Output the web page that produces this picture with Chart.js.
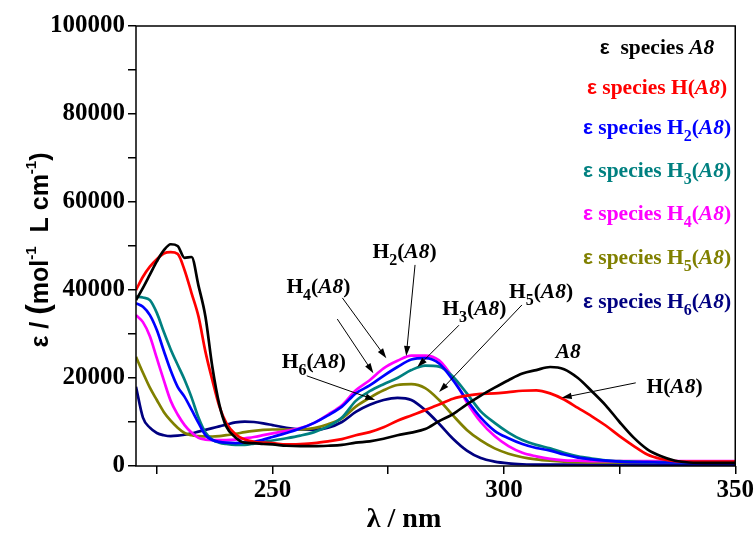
<!DOCTYPE html>
<html>
<head>
<meta charset="utf-8">
<script src="https://cdn.jsdelivr.net/npm/chart.js@4.4.1/dist/chart.umd.min.js"></script>
<style>
  html, body { margin: 0; padding: 0; background: #fff; }
  #wrap { width: 756px; height: 533px; }
</style>
</head>
<body>
<div id="wrap"><canvas id="c" width="756" height="533"></canvas></div>
<script>
// Wavelength grid (nm) shared by all species spectra
const wavelengths = [220.5, 222, 223.5, 225, 226.5, 228, 229.5, 231, 232.5, 234, 235.5, 237, 238.5, 240, 242, 244, 246, 248, 250,
  253, 256, 259, 262, 265, 268, 271, 274, 277, 280, 283, 286, 289, 292, 295, 298, 301, 304, 307, 310, 313, 316, 319, 322, 325,
  328, 331, 334, 337, 340, 345, 350];

// Molar absorptivity (mol-1 L cm-1) of each protonated species
const epsA8 = [37700, 40500, 43500, 46500, 49000, 50400, 50000, 47300, 47500, 41000, 34000, 22500, 14000, 9000, 6500, 5300, 5200, 5000, 4900,
  4600, 4500, 4500, 4600, 4800, 5300, 5600, 6200, 7000, 7600, 8400, 10200, 11800, 14000, 16000, 17800, 19500, 21000, 21800, 22500, 22000, 20000, 17000, 13800, 10000,
  6500, 3800, 2200, 1200, 800, 700, 700];
const epsH1A8 = [40000, 43000, 45300, 47000, 48300, 48600, 48200, 44500, 39300, 34000, 26000, 19500, 13600, 9800, 7200, 6000, 5500, 5300, 5200,
  4900, 5000, 5200, 5600, 6100, 7000, 7700, 8800, 10300, 11500, 12700, 14000, 15300, 16000, 16400, 16500, 16800, 17100, 17200, 16500, 15100, 13200, 11300, 9200, 6800,
  4600, 2600, 1600, 1100, 1000, 1000, 1000];
const epsH2A8 = [37000, 36200, 34300, 30900, 26200, 21700, 18000, 15700, 12800, 9800, 7000, 5900, 5500, 5300, 5200, 5300, 5500, 6000, 6600,
  7500, 8500, 9800, 11500, 13500, 16500, 18300, 20500, 22500, 24200, 24500, 23300, 19500, 15000, 11000, 8000, 6300, 5000, 4100, 3500, 2600, 1900, 1500, 1200, 1000,
  900, 900, 800, 800, 800, 800, 800];
const epsH3A8 = [38500, 38300, 37700, 34800, 30500, 26500, 23000, 19600, 15600, 11000, 7600, 6000, 5300, 5000, 4800, 4800, 5100, 5500, 5800,
  6300, 6900, 7700, 9000, 11000, 14800, 17000, 18600, 20000, 21800, 22800, 22600, 20300, 16500, 12400, 9800, 7600, 5900, 4800, 4000, 3000, 2200, 1700, 1300, 1100,
  1000, 900, 900, 900, 900, 900, 900];
const epsH4A8 = [34300, 32700, 29500, 24500, 19500, 14800, 11700, 9300, 7600, 6400, 6000, 5900, 5900, 5900, 6000, 6300, 6600, 7000, 7400,
  8000, 8600, 9800, 11700, 13800, 17200, 19500, 22200, 23900, 25100, 25100, 24000, 20000, 14500, 10000, 6800, 4500, 3000, 2200, 1600, 1300, 1200, 1100, 1100, 1100,
  1100, 1100, 1100, 1100, 1100, 1100, 1100];
const epsH5A8 = [24800, 21200, 17800, 15000, 12300, 10300, 8700, 7500, 7000, 6800, 6700, 6700, 6800, 7000, 7300, 7700, 8000, 8200, 8300,
  8300, 8300, 8600, 9500, 10800, 13500, 15500, 17200, 18400, 18600, 17700, 15000, 11500, 8200, 5800, 4000, 2800, 2000, 1500, 1200, 1000, 900, 800, 800, 800,
  800, 800, 800, 800, 800, 800, 800];
const epsH6A8 = [18000, 11000, 8700, 7500, 7000, 6800, 6900, 7100, 7400, 7800, 8200, 8600, 9000, 9400, 9900, 10100, 10000, 9700, 9300,
  8700, 8300, 8200, 8700, 10000, 12300, 13900, 15000, 15500, 15000, 12700, 9600, 6200, 3500, 1800, 1000, 600, 400, 300, 300, 300, 300, 300, 300, 300,
  300, 300, 300, 300, 300, 300, 300];

// Number of bound protons per species (0 = A8, 1 = H(A8), n = Hn(A8))
const protonCounts = [0, 1, 2, 3, 4, 5, 6];
const seriesValues = [epsA8, epsH1A8, epsH2A8, epsH3A8, epsH4A8, epsH5A8, epsH6A8];
const seriesColors = ['#000000', '#ff0000', '#0000ff', '#008080', '#ff00ff', '#808000', '#000080'];

// Axis ticks
const xTickValues = [225, 250, 275, 300, 325, 350];
const xLabelValues = [250, 300, 350];
const yTickStep = 10000;
const yLabelStep = 20000;

// Callout labels: species protons, label anchor (nm, eps), arrows as [fromNm, fromEps, toNm, toEps]
const callouts = [
  { n: 2, at: [271.6, 47300], arrows: [[280.8, 45700, 278.9, 25000]] },
  { n: 4, at: [253.0, 39300], arrows: [[265.1, 38200, 274.6, 24500], [264.0, 33400, 271.8, 21100]] },
  { n: 6, at: [252.0, 22300], arrows: [[257.4, 20500, 272.2, 15000]] },
  { n: 3, at: [286.7, 34300], arrows: [[290.3, 32000, 281.3, 22500]] },
  { n: 5, at: [301.1, 38200], arrows: [[303.9, 36600, 286.0, 16800]] },
  { n: 0, at: [311.2, 24500], arrows: [] },
  { n: 1, at: [330.8, 16600], arrows: [[328.5, 18900, 312.5, 15500]] }
];

const SERIF = '"Liberation Serif", "Times New Roman", serif';
const SANS = '"Liberation Sans", Arial, sans-serif';

function drawRich(ctx, segs, x, y, align) {
  let w = 0;
  segs.forEach(s => { ctx.font = s.font; s.w = ctx.measureText(s.t).width; w += s.w; });
  let cx = align === 'center' ? x - w / 2 : (align === 'right' ? x - w : x);
  ctx.textAlign = 'left';
  ctx.textBaseline = 'alphabetic';
  segs.forEach(s => { ctx.font = s.font; ctx.fillText(s.t, cx, y + (s.dy || 0)); cx += s.w; });
  return w;
}

function speciesSegs(n, size) {
  const B = `bold ${size}px ${SERIF}`;
  const BI = `italic bold ${size}px ${SERIF}`;
  const S = `bold ${Math.round(size * 0.74)}px ${SERIF}`;
  if (n === 0) return [{ t: 'A8', font: BI }];
  const segs = [{ t: 'H', font: B }];
  if (n > 1) segs.push({ t: String(n), font: S, dy: Math.round(size * 0.32) });
  segs.push({ t: '(', font: B }, { t: 'A8', font: BI }, { t: ')', font: B });
  return segs;
}

function arrow(ctx, x1, y1, x2, y2) {
  const ang = Math.atan2(y2 - y1, x2 - x1);
  const L = 10, H = 3.2;
  ctx.beginPath();
  ctx.moveTo(x1, y1);
  ctx.lineTo(x2 - Math.cos(ang) * L * 0.8, y2 - Math.sin(ang) * L * 0.8);
  ctx.stroke();
  ctx.beginPath();
  ctx.moveTo(x2, y2);
  ctx.lineTo(x2 - Math.cos(ang) * L - Math.sin(ang) * H, y2 - Math.sin(ang) * L + Math.cos(ang) * H);
  ctx.lineTo(x2 - Math.cos(ang) * L + Math.sin(ang) * H, y2 - Math.sin(ang) * L - Math.cos(ang) * H);
  ctx.closePath();
  ctx.fill();
}

// Frame, legend, callouts and axis titles
const decorations = {
  id: 'decorations',
  afterDatasetsDraw(chart) {
    const { ctx, chartArea: a, scales: { x, y } } = chart;
    ctx.save();
    ctx.strokeStyle = '#000';
    ctx.lineWidth = 1.5;
    ctx.strokeRect(a.left, a.top, a.right - a.left, a.bottom - a.top);

    // Legend
    const legendBaselines = [54, 94, 134, 177, 220, 264, 308];
    const legendCenter = 657;
    protonCounts.forEach((n, i) => {
      ctx.fillStyle = seriesColors[i];
      const segs = [{ t: 'ε', font: `bold 21px ${SANS}` },
        { t: i === 0 ? '  species ' : ' species ', font: `bold 21.5px ${SERIF}` }]
        .concat(speciesSegs(n, 21.5));
      drawRich(ctx, segs, legendCenter, legendBaselines[i], 'center');
    });

    // Callouts
    ctx.fillStyle = '#000';
    ctx.strokeStyle = '#000';
    ctx.lineWidth = 1;
    callouts.forEach(c => {
      drawRich(ctx, speciesSegs(c.n, 21.5), x.getPixelForValue(c.at[0]), y.getPixelForValue(c.at[1]), 'left');
      c.arrows.forEach(ar => arrow(ctx,
        x.getPixelForValue(ar[0]), y.getPixelForValue(ar[1]),
        x.getPixelForValue(ar[2]), y.getPixelForValue(ar[3])));
    });

    // X title
    ctx.fillStyle = '#000';
    ctx.font = `bold 28px ${SERIF}`;
    ctx.textAlign = 'center';
    ctx.textBaseline = 'alphabetic';
    ctx.fillText('λ / nm', 404, 527);

    // Y title (rotated)
    ctx.translate(48, 250);
    ctx.rotate(-Math.PI / 2);
    const F = `bold 25px ${SANS}`, P = `bold 32px ${SANS}`, SUP = `bold 15px ${SANS}`;
    drawRich(ctx, [
      { t: 'ε / ', font: F }, { t: '(', font: P }, { t: 'mol', font: F }, { t: '-1', font: SUP, dy: -12 },
      { t: '  L cm', font: F }, { t: '-1', font: SUP, dy: -12 }, { t: ')', font: F }
    ], 0, 0, 'center');
    ctx.restore();
  }
};

const datasets = seriesValues.map((vals, i) => ({
  label: protonCounts[i] === 0 ? 'A8' : 'H' + (protonCounts[i] > 1 ? protonCounts[i] : '') + '(A8)',
  data: wavelengths.map((w, k) => ({ x: w, y: vals[k] })),
  borderColor: seriesColors[i],
  backgroundColor: seriesColors[i],
  borderWidth: 2.7,
  pointRadius: 0,
  fill: false,
  cubicInterpolationMode: 'monotone'
}));

const tickFont = { family: SERIF, size: 25, weight: 'bold' };

new Chart(document.getElementById('c'), {
  type: 'line',
  data: { datasets },
  options: {
    responsive: false,
    animation: false,
    devicePixelRatio: 1,
    layout: { padding: { top: 26, right: 19, left: 0, bottom: 0 } },
    plugins: { legend: { display: false }, tooltip: { enabled: false } },
    scales: {
      x: {
        type: 'linear',
        min: wavelengths[0],
        max: 350,
        afterBuildTicks: s => { s.ticks = xTickValues.map(v => ({ value: v })); },
        afterFit: s => { s.height = 67; },
        border: { display: false },
        grid: { drawOnChartArea: false, drawTicks: true, tickLength: 8, color: '#000', lineWidth: 1.5 },
        ticks: {
          color: '#000', font: tickFont, padding: 2, maxRotation: 0, autoSkip: false,
          callback: v => (xLabelValues.includes(v) ? String(v) : '')
        }
      },
      y: {
        min: 0,
        max: 100000,
        afterFit: s => { s.width = 136; },
        border: { display: false },
        grid: { drawOnChartArea: false, drawTicks: true, tickLength: 8, color: '#000', lineWidth: 1.5 },
        ticks: {
          stepSize: yTickStep, color: '#000', font: tickFont, padding: 3, autoSkip: false,
          callback: v => (v % yLabelStep === 0 ? String(v) : '')
        }
      }
    }
  },
  plugins: [decorations]
});
</script>
</body>
</html>
